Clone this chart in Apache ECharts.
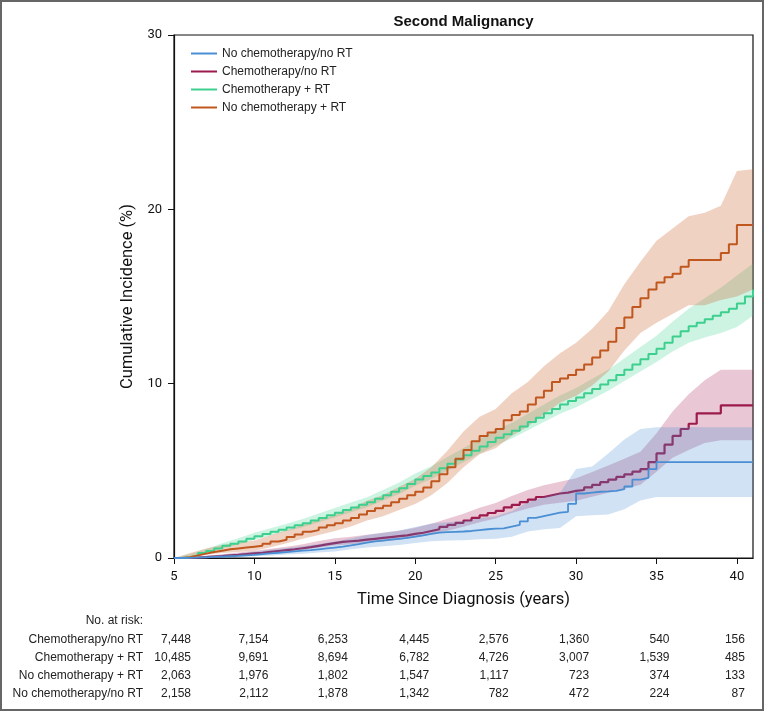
<!DOCTYPE html>
<html><head><meta charset="utf-8">
<script src="https://cdn.jsdelivr.net/npm/echarts@6/dist/echarts.min.js"></script>
<style>html,body{margin:0;padding:0;background:#fff}#c{width:766px;height:712px}</style>
</head><body><div id="c"></div><script>
// ---------- DATA ----------
const years = [5,5.5,6,6.5,7,7.5,8,8.5,9,9.5,10,10.5,11,11.5,12,12.5,13,13.5,14,14.5,15,15.5,16,16.5,17,17.5,18,18.5,19,19.5,20,20.5,21,21.5,22,22.5,23,23.5,24,24.5,25,25.5,26,26.5,27,27.5,28,28.5,29,29.5,30,30.5,31,31.5,32,32.5,33,33.5,34,34.5,35,35.5,36,36.5,37,37.5,38,38.5,39,39.5,40,40.5,41];
const bandYears = [5,6,7,8,9,10,11,12,13,14,15,16,17,18,19,20,21,22,23,24,25,26,27,28,29,30,31,32,33,34,35,36,37,38,39,40,41];
const xTicks = [5,10,15,20,25,30,35,40];
const yTicks = [0,10,20,30];

// No chemotherapy/no RT (blue)
const noChemoNoRT = [0,0.01,0.02,0.04,0.06,0.08,0.1,0.12,0.15,0.18,0.22,0.26,0.3,0.34,0.38,0.42,0.45,0.5,0.55,0.6,0.65,0.72,0.8,0.88,0.95,1.0,1.05,1.1,1.15,1.22,1.3,1.38,1.45,1.48,1.5,1.52,1.55,1.6,1.65,1.68,1.7,1.8,1.9,2.1,2.3,2.4,2.5,2.6,2.65,3.1,3.7,3.75,3.8,3.82,3.85,3.95,4.1,4.5,4.6,5.1,5.5,5.5,5.5,5.5,5.5,5.5,5.5,5.5,5.5,5.5,5.5,5.5,5.5];
const noChemoNoRTLo = [0,0,0.01,0.03,0.06,0.1,0.15,0.2,0.25,0.32,0.38,0.5,0.6,0.68,0.75,0.86,0.96,1.0,1.02,1.08,1.1,1.22,1.52,1.65,1.72,2.4,2.45,2.5,2.8,3.3,3.5,3.5,3.5,3.5,3.5,3.5,3.5];
const noChemoNoRTHi = [0,0.07,0.13,0.19,0.26,0.36,0.47,0.58,0.68,0.8,0.94,1.12,1.32,1.45,1.58,1.78,1.98,2.05,2.12,2.28,2.4,2.68,3.2,3.5,3.75,5.1,5.25,6.0,6.8,7.4,7.5,7.5,7.5,7.5,7.5,7.5,7.5];

// Chemotherapy/no RT (crimson)
const chemoNoRT = [0,0.01,0.03,0.05,0.08,0.11,0.15,0.18,0.22,0.26,0.3,0.35,0.4,0.45,0.5,0.56,0.62,0.7,0.78,0.85,0.92,0.96,1.0,1.05,1.1,1.15,1.2,1.25,1.3,1.38,1.45,1.55,1.65,1.78,1.9,2.02,2.15,2.3,2.45,2.58,2.7,2.9,3.05,3.2,3.35,3.5,3.6,3.7,3.75,3.85,3.9,4.05,4.2,4.35,4.5,4.65,4.8,4.95,5.1,5.5,6.0,6.5,7.0,7.4,7.7,8.3,8.3,8.3,8.76,8.76,8.76,8.76,8.76];
const chemoNoRTLo = [0,0.01,0.04,0.09,0.14,0.2,0.28,0.36,0.46,0.6,0.72,0.79,0.88,0.96,1.05,1.18,1.35,1.57,1.79,2.05,2.27,2.58,2.84,3.05,3.17,3.28,3.52,3.75,3.97,4.2,4.95,5.75,6.2,6.6,6.75,6.75,6.75];
const chemoNoRTHi = [0,0.06,0.13,0.22,0.31,0.41,0.53,0.65,0.79,0.97,1.13,1.22,1.34,1.45,1.57,1.74,1.97,2.25,2.54,2.88,3.16,3.55,3.9,4.18,4.38,4.58,4.93,5.3,5.7,6.1,7.15,8.4,9.4,10.2,10.8,10.8,10.8];

// Chemotherapy + RT (green)
const chemoRT = [0,0.05,0.15,0.28,0.4,0.55,0.7,0.82,0.95,1.1,1.25,1.38,1.5,1.62,1.75,1.88,2.0,2.15,2.3,2.45,2.6,2.75,2.9,3.05,3.2,3.4,3.6,3.8,4.0,4.25,4.5,4.7,4.9,5.15,5.4,5.65,5.9,6.15,6.4,6.65,6.9,7.1,7.3,7.55,7.8,8.05,8.3,8.55,8.8,9.0,9.2,9.45,9.7,9.95,10.2,10.5,10.8,11.1,11.4,11.7,12.0,12.35,12.7,13.0,13.3,13.5,13.7,13.9,14.1,14.3,14.6,15.0,15.4];
const chemoRTLo = [0,0.07,0.28,0.55,0.77,1.05,1.29,1.53,1.76,2.05,2.33,2.62,2.91,3.3,3.67,4.15,4.53,5.0,5.49,5.98,6.46,6.85,7.33,7.8,8.28,8.65,9.12,9.6,10.15,10.7,11.25,11.85,12.35,12.65,12.9,13.25,13.9];
const chemoRTHi = [0,0.23,0.52,0.85,1.13,1.45,1.71,1.97,2.24,2.55,2.87,3.18,3.49,3.9,4.33,4.85,5.27,5.8,6.31,6.82,7.34,7.75,8.27,8.8,9.32,9.75,10.28,10.8,11.45,12.1,12.75,13.55,14.3,14.9,15.5,16.2,16.9];

// No chemotherapy + RT (orange)
const noChemoRT = [0,0.05,0.15,0.25,0.35,0.42,0.5,0.55,0.6,0.65,0.7,0.82,0.95,1.05,1.2,1.35,1.5,1.6,1.75,1.88,2.0,2.15,2.3,2.5,2.7,2.85,3.0,3.2,3.4,3.6,3.8,4.05,4.4,4.8,5.2,5.7,6.2,6.7,7.0,7.2,7.4,7.9,8.2,8.4,8.8,9.2,9.6,10.1,10.3,10.5,10.8,11.1,11.5,11.9,12.4,13.2,13.8,14.4,14.9,15.4,15.8,16.1,16.3,16.7,17.1,17.1,17.1,17.1,17.5,18.0,19.1,19.1,19.1];
const noChemoRTLo = [0,0.05,0.18,0.28,0.35,0.42,0.62,0.85,1.1,1.32,1.55,1.8,2.15,2.4,2.75,3.1,3.6,4.3,5.2,5.95,6.3,7.0,7.55,8.25,8.9,9.3,9.9,10.7,11.9,12.9,13.5,14.0,14.5,14.5,14.8,15.0,15.4];
const noChemoRTHi = [0,0.28,0.55,0.75,0.88,1.0,1.3,1.58,1.92,2.2,2.48,2.82,3.28,3.62,4.08,4.55,5.2,6.15,7.25,8.1,8.55,9.45,10.1,11.0,11.75,12.35,13.15,14.15,15.7,17.0,18.2,18.9,19.6,19.8,20.2,22.2,22.3];

// Number at risk table
const riskTimes = [5,10,15,20,25,30,35,40];
const riskLabels = ['Chemotherapy/no RT','Chemotherapy + RT','No chemotherapy + RT','No chemotherapy/no RT'];
const riskChemoNoRT = [7448,7154,6253,4445,2576,1360,540,156];
const riskChemoRT = [10485,9691,8694,6782,4726,3007,1539,485];
const riskNoChemoRT = [2063,1976,1802,1547,1117,723,374,133];
const riskNoChemoNoRT = [2158,2112,1878,1342,782,472,224,87];

// ---------- CHART ----------
const FONT = "'Liberation Sans', Arial, Helvetica, sans-serif";
const AXFONT = "Roboto, 'Liberation Sans', sans-serif";
const chart = echarts.init(document.getElementById('c'), null, {renderer:'canvas'});

// Confidence band drawn as one polygon, positioned through the axis scales (api.coord)
function band(color, lo, hi, z) {
  const n = bandYears.length;
  return {
    type:'custom', silent:true, z:z, clip:true,
    data: bandYears.map((t,i)=>[t, lo[i], hi[i]]),
    encode:{x:0, y:[1,2]},
    renderItem: function(params, api) {
      if (params.dataIndex !== 0) return null;
      const pts = [];
      for (let i = 0; i < n; i++) pts.push(api.coord([bandYears[i], hi[i]]));
      for (let i = n-1; i >= 0; i--) pts.push(api.coord([bandYears[i], lo[i]]));
      return {type:'polygon', shape:{points:pts}, style:{fill:color, stroke:null}};
    }
  };
}
function line(name, color, est, w, z) {
  return {type:'line', name:name, step:'end', symbol:'none', showSymbol:false, z:z, color:color,
    lineStyle:{color:color, width:w}, data: years.map((t,i)=>[t, est[i]])};
}

const C = { blue:'#4a8fd4', crimson:'#9c1a4c', green:'#3ccf8e', orange:'#c0571f' };

const series = [
  band('rgba(170,40,90,0.26)', chemoNoRTLo, chemoNoRTHi, 1),
  band('rgba(60,207,142,0.26)', chemoRTLo, chemoRTHi, 1),
  band('rgba(200,95,40,0.28)', noChemoRTLo, noChemoRTHi, 1),
  line('Chemotherapy/no RT', C.crimson, chemoNoRT, 2.2, 3),
  line('Chemotherapy + RT', C.green, chemoRT, 2, 3),
  line('No chemotherapy + RT', C.orange, noChemoRT, 2, 3),
  band('rgba(74,143,212,0.26)', noChemoNoRTLo, noChemoNoRTHi, 4),
  line('No chemotherapy/no RT', C.blue, noChemoNoRT, 1.8, 5)
];

const option = {
  animation:false,
  backgroundColor:'#fff',
  grid:{left:174, top:35, width:579, height:523, show:true, borderColor:'#111', borderWidth:1.2, containLabel:false},
  legend:{
    data:['No chemotherapy/no RT','Chemotherapy/no RT','Chemotherapy + RT','No chemotherapy + RT'],
    orient:'vertical', left:191, top:47, padding:0, icon:'rect', itemWidth:26, itemHeight:2, itemGap:5,
    textStyle:{fontFamily:FONT, fontSize:12, color:'#222', lineHeight:13}
  },
  xAxis:{
    type:'value', min:5, max:41, interval:5,
    name:'Time Since Diagnosis (years)', nameLocation:'middle', nameGap:33,
    nameTextStyle:{fontFamily:AXFONT, fontSize:16.5, color:'#111'},
    axisLine:{show:true, onZero:false, lineStyle:{color:'#111', width:1.2}},
    axisTick:{show:true, inside:false, length:6, lineStyle:{color:'#111'}, customValues:xTicks},
    axisLabel:{fontFamily:AXFONT, fontSize:13, color:'#111', margin:12, customValues:xTicks},
    splitLine:{show:false}
  },
  yAxis:{
    type:'value', min:0, max:30, interval:10,
    name:'Cumulative Incidence (%)', nameLocation:'middle', nameGap:29,
    nameTextStyle:{fontFamily:AXFONT, fontSize:16.5, color:'#111'},
    axisLine:{show:true, lineStyle:{color:'#111', width:1.2}},
    axisTick:{show:true, inside:false, length:6, lineStyle:{color:'#111'}, customValues:yTicks},
    axisLabel:{fontFamily:AXFONT, fontSize:13, color:'#111', margin:12, customValues:yTicks},
    splitLine:{show:false}
  },
  series: series
};
chart.setOption(option);

// ---------- Title, frame and risk table ----------
const graphics = [];
graphics.push({type:'rect', shape:{x:1, y:1, width:762, height:709}, style:{fill:'none', stroke:'#666', lineWidth:2}, z:100});
const p0 = chart.convertToPixel({gridIndex:0}, [5, 30]);
const p1 = chart.convertToPixel({gridIndex:0}, [41, 0]);
graphics.push({type:'text', x:(p0[0]+p1[0])/2, y:22, style:{text:'Second Malignancy', font:"bold 15px "+FONT, fill:'#111', align:'center', verticalAlign:'middle'}});

const tableRows = [riskChemoNoRT, riskChemoRT, riskNoChemoRT, riskNoChemoNoRT];
const labelRight = 143, headY = 621, rowY0 = 639.3, rowStep = 18.1;
graphics.push({type:'text', x:labelRight, y:headY, style:{text:'No. at risk:', font:"12px "+FONT, fill:'#222', align:'right', verticalAlign:'middle'}});
const colShift = [17, 14, 13, 14, 13, 13, 13, 8];
tableRows.forEach((row, r) => {
  const y = rowY0 + r*rowStep;
  graphics.push({type:'text', x:labelRight, y:y, style:{text:riskLabels[r], font:"12px "+FONT, fill:'#222', align:'right', verticalAlign:'middle'}});
  row.forEach((v, i) => {
    const px = chart.convertToPixel({xAxisIndex:0}, riskTimes[i]);
    graphics.push({type:'text', x:px + colShift[i], y:y, style:{text:v.toLocaleString('en-US'), font:"12px "+FONT, fill:'#222', align:'right', verticalAlign:'middle'}});
  });
});
chart.setOption({graphic:graphics});
</script></body></html>
